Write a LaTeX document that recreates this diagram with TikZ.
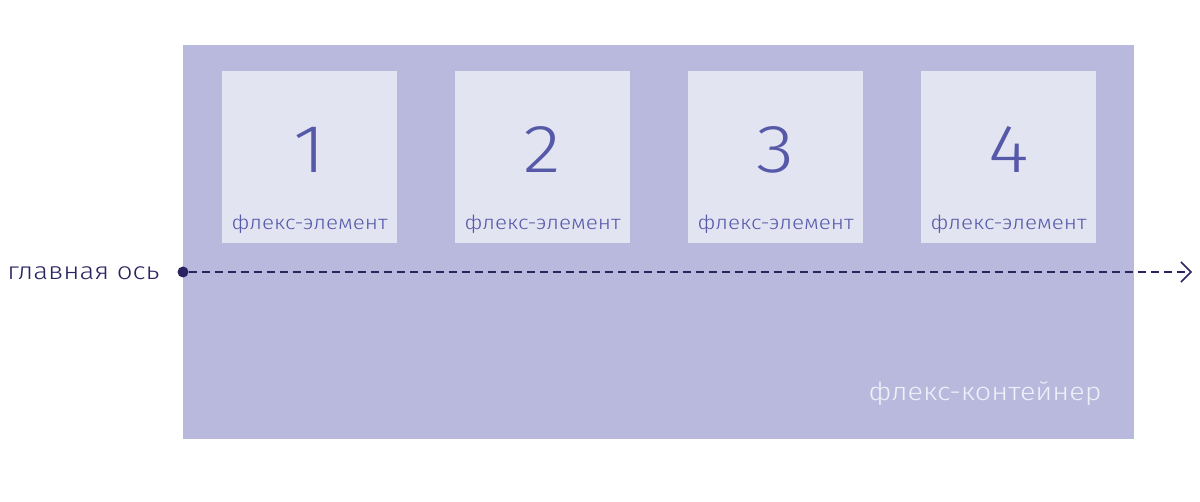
\documentclass[tikz,border=0pt]{standalone}
\usepackage{fontspec}
\setmainfont{Fira Sans Light}[FakeStretch=1.15]
\usetikzlibrary{arrows.meta}
\definecolor{contc}{HTML}{B9B9DD}
\definecolor{itemc}{HTML}{E3E4F2}
\definecolor{itemt}{HTML}{5659A8}
\definecolor{axisc}{HTML}{2A2560}
\definecolor{contt}{HTML}{F0F0FA}
\begin{document}
\begin{tikzpicture}[x=1pt,y=-1pt,
  container/.style={fill=contc,draw=none,minimum width=951pt,minimum height=394pt,inner sep=0pt,anchor=north west},
  item/.style={fill=itemc,draw=none,minimum width=175pt,minimum height=172pt,inner sep=0pt,anchor=north west},
  num/.style={text=itemt,font=\fontsize{68}{68}\selectfont},
  itemlabel/.style={text=itemt,font=\fontsize{19.5}{19.5}\selectfont},
  contlabel/.style={text=contt,font=\fontsize{25}{25}\selectfont},
  axislabel/.style={text=axisc,font=\fontsize{24}{24}\selectfont,anchor=east},
  axisline/.style={draw=axisc,line width=1.5pt,dash pattern=on 8pt off 5pt,-{Straight Barb[length=10pt,width=20pt,line width=1.5pt]}}
]
\useasboundingbox (0,0) rectangle (1200,502);
\node[container] (cont) at (183,45) {};
\foreach \i/\x in {1/222,2/455,3/688,4/921}{
  \node[item] (b\i) at (\x,71) {};
  \node[num] (n\i) at (b\i.center |- 0,150) {\i};
  \node[itemlabel] (l\i) at (b\i.center |- 0,224) {флекс-элемент};
}
\node[contlabel] (cl) at (985,394) {флекс-контейнер};
\node[circle,fill=axisc,inner sep=0pt,minimum size=11pt] (dot) at (183,272) {};
\coordinate (end) at (1192,272);
\draw[axisline] (dot) -- (end);
\node[axislabel] (al) at (163,273) {главная ось};
\end{tikzpicture}
\end{document}
